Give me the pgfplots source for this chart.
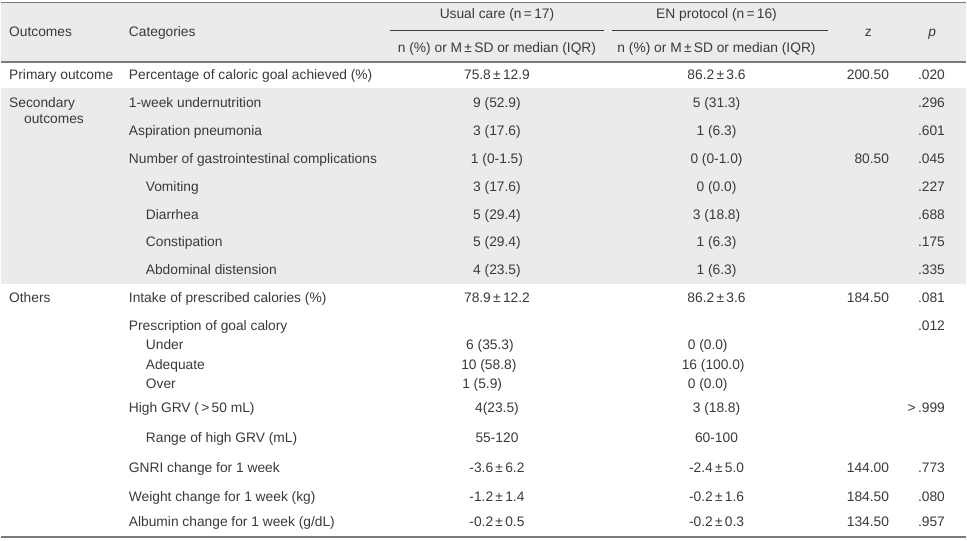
\documentclass[border=0pt]{standalone}
\usepackage{pgfplots}
\pgfplotsset{compat=1.18}
\usepackage{fontspec}
\setmainfont{Liberation Sans}
\definecolor{txt}{HTML}{3A3A3A}
\definecolor{bandgray}{HTML}{EBEBEB}
\definecolor{rulegray}{HTML}{7A7A7A}
\tikzset{cell/.style={font=\fontsize{13.8}{15}\selectfont,text=txt,inner sep=0pt}}
\newcommand{\TL}[3]{\node[cell,anchor=base west] at (axis cs:#1,#2+5) {#3};}
\newcommand{\TC}[3]{\node[cell,anchor=base] at (axis cs:#1,#2+5) {#3};}
\newcommand{\TR}[3]{\node[cell,anchor=base east] at (axis cs:#1,#2+5) {#3};}
\newcommand{\PM}{\,±\,}
\begin{document}
\begin{tikzpicture}
\begin{axis}[width=967pt,height=542pt,scale only axis,
  xmin=0,xmax=967,ymin=0,ymax=542,y dir=reverse,hide axis,clip=false]
\fill[white] (axis cs:0,0) rectangle (axis cs:967,542);
\fill[bandgray] (axis cs:0,3) rectangle (axis cs:967,62);
\fill[bandgray] (axis cs:0,88) rectangle (axis cs:967,285);
\draw[rulegray,line width=2pt] (axis cs:0,2.5) -- (axis cs:967,2.5);
\draw[rulegray,line width=1.6pt] (axis cs:0,62) -- (axis cs:967,62);
\draw[rulegray,line width=2pt] (axis cs:0,538.5) -- (axis cs:967,538.5);
\draw[txt,line width=0.9pt] (axis cs:390,31) -- (axis cs:604,31);
\draw[txt,line width=0.9pt] (axis cs:612,31) -- (axis cs:829,31);
% header
\TL{8}{31.5}{Outcomes}
\TL{128}{31.5}{Categories}
\TC{497}{14}{Usual care (n\,=\,17)}
\TC{717}{14}{EN protocol (n\,=\,16)}
\TC{497}{47.5}{n (\%) or M\PM SD or median (IQR)}
\TC{717}{47.5}{n (\%) or M\PM SD or median (IQR)}
\TC{869}{31.5}{z}
\TC{933}{31.5}{\textit{p}}
% primary
\TL{8}{74.5}{Primary outcome}
\TL{128}{74.5}{Percentage of caloric goal achieved (\%)}
\TC{497}{74.5}{75.8\PM 12.9}
\TC{717}{74.5}{86.2\PM 3.6}
\TR{890}{74.5}{200.50}
\TR{946}{74.5}{.020}
% secondary
\TL{8}{102.5}{Secondary}
\TL{23}{118.5}{outcomes}
\TL{128}{102.5}{1-week undernutrition}
\TC{497}{102.5}{9 (52.9)}
\TC{717}{102.5}{5 (31.3)}
\TR{946}{102.5}{.296}
\TL{128}{130.5}{Aspiration pneumonia}
\TC{497}{130.5}{3 (17.6)}
\TC{717}{130.5}{1 (6.3)}
\TR{946}{130.5}{.601}
\TL{128}{158.5}{Number of gastrointestinal complications}
\TC{497}{158.5}{1 (0-1.5)}
\TC{717}{158.5}{0 (0-1.0)}
\TR{890}{158.5}{80.50}
\TR{946}{158.5}{.045}
\TL{145}{186.5}{Vomiting}
\TC{497}{186.5}{3 (17.6)}
\TC{717}{186.5}{0 (0.0)}
\TR{946}{186.5}{.227}
\TL{145}{214.5}{Diarrhea}
\TC{497}{214.5}{5 (29.4)}
\TC{717}{214.5}{3 (18.8)}
\TR{946}{214.5}{.688}
\TL{145}{242.5}{Constipation}
\TC{497}{242.5}{5 (29.4)}
\TC{717}{242.5}{1 (6.3)}
\TR{946}{242.5}{.175}
\TL{145}{270.5}{Abdominal distension}
\TC{497}{270.5}{4 (23.5)}
\TC{717}{270.5}{1 (6.3)}
\TR{946}{270.5}{.335}
% others
\TL{8}{298.5}{Others}
\TL{128}{298.5}{Intake of prescribed calories (\%)}
\TC{497}{298.5}{78.9\PM 12.2}
\TC{717}{298.5}{86.2\PM 3.6}
\TR{890}{298.5}{184.50}
\TR{946}{298.5}{.081}
\TL{128}{326.5}{Prescription of goal calory}
\TR{946}{326.5}{.012}
\TL{145}{345.5}{Under}
\TL{466}{345.5}{6 (35.3)}
\TL{688}{345.5}{0 (0.0)}
\TL{145}{365}{Adequate}
\TL{461}{365}{10 (58.8)}
\TL{682}{365}{16 (100.0)}
\TL{145}{384.5}{Over}
\TL{462}{384.5}{1 (5.9)}
\TL{688}{384.5}{0 (0.0)}
\TL{128}{408.5}{High GRV (\,>\,50 mL)}
\TC{497}{408.5}{4(23.5)}
\TC{717}{408.5}{3 (18.8)}
\TR{946}{408.5}{>\,.999}
\TL{145}{438.5}{Range of high GRV (mL)}
\TC{497}{438.5}{55-120}
\TC{717}{438.5}{60-100}
\TL{128}{468.5}{GNRI change for 1 week}
\TC{497}{468.5}{-3.6\PM 6.2}
\TC{717}{468.5}{-2.4\PM 5.0}
\TR{890}{468.5}{144.00}
\TR{946}{468.5}{.773}
\TL{128}{497.5}{Weight change for 1 week (kg)}
\TC{497}{497.5}{-1.2\PM 1.4}
\TC{717}{497.5}{-0.2\PM 1.6}
\TR{890}{497.5}{184.50}
\TR{946}{497.5}{.080}
\TL{128}{522.5}{Albumin change for 1 week (g/dL)}
\TC{497}{522.5}{-0.2\PM 0.5}
\TC{717}{522.5}{-0.2\PM 0.3}
\TR{890}{522.5}{134.50}
\TR{946}{522.5}{.957}
\end{axis}
\end{tikzpicture}
\end{document}
